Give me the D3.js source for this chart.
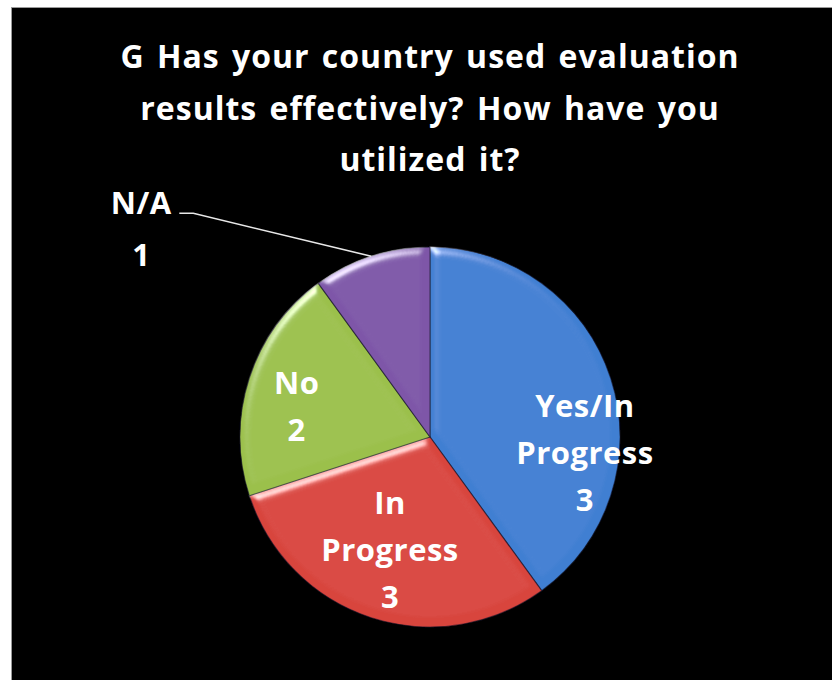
<!DOCTYPE html>
<html>
<head>
<meta charset="utf-8">
<script src="https://cdn.jsdelivr.net/npm/d3@7"></script>
<style>
  body { margin: 0; background: #fff; }
  svg text { font-family: 'Open Sans', Lato, sans-serif; font-weight: bold; fill: #fff; font-variant-ligatures: none; }
</style>
</head>
<body>
<div id="chart"></div>
<script>
// data
const categories = ['Yes/In Progress', 'In Progress', 'No', 'N/A']
const labelLines = [['Yes/In', 'Progress'], ['In', 'Progress'], ['No'], ['N/A']]
const sliceShares = [4, 3, 2, 1] // slice sizes as drawn
const counts = [3, 3, 2, 1] // numbers printed on the labels
const titleLines = ['G Has your country used evaluation', 'results effectively? How have you', 'utilized it?']

const op = {
  width: 832,
  height: 680,
  cx: 430,
  cy: 437,
  r: 190,
  colors: ['#3f7fd2', '#d8443e', '#9bc04b', '#7e57a8'],
  // label placement: angle offset (deg) from slice middle, radius fraction, outside?
  labelPos: [
    { da: 24, k: 0.82 },
    { da: 1.5, k: 0.63 },
    { da: -5, k: 0.72 },
    { outside: true }
  ],
  lineH: 47,
  fontSize: 31,
  titleSize: 32
}

const svg = d3.select('#chart').append('svg').attr('width', op.width).attr('height', op.height)

// background panel
svg.append('rect')
  .attr('x', 11.5).attr('y', 7.5)
  .attr('width', op.width).attr('height', op.height)
  .attr('fill', '#000').attr('stroke', '#9a9a9a')

// bevel filter
const defs = svg.append('defs')
const f = defs.append('filter').attr('id', 'bevel').attr('x', '-10%').attr('y', '-10%').attr('width', '120%').attr('height', '120%')
f.append('feGaussianBlur').attr('in', 'SourceAlpha').attr('stdDeviation', 5).attr('result', 'blur')
f.append('feSpecularLighting').attr('in', 'blur').attr('surfaceScale', 4).attr('specularConstant', 0.7)
  .attr('specularExponent', 40).attr('lighting-color', '#fff').attr('result', 'spec')
  .append('feDistantLight').attr('azimuth', 240).attr('elevation', 40)
f.append('feComposite').attr('in', 'spec').attr('in2', 'SourceAlpha').attr('operator', 'in').attr('result', 'specIn')
f.append('feComposite').attr('in', 'SourceGraphic').attr('in2', 'specIn')
  .attr('operator', 'arithmetic').attr('k1', 0).attr('k2', 1).attr('k3', 1).attr('k4', 0)

// title
svg.append('text')
  .attr('text-anchor', 'middle')
  .attr('font-size', op.titleSize)
  .attr('letter-spacing', 1)
  .attr('word-spacing', 3)
  .selectAll('tspan').data(titleLines).enter()
  .append('tspan')
  .attr('x', op.cx)
  .attr('y', (d, i) => 68 + i * 51.5)
  .text(d => d)

// pie
const data = categories.map((c, i) => ({ name: c, share: sliceShares[i], count: counts[i], lines: labelLines[i] }))
const pie = d3.pie().sort(null).value(d => d.share)
const arcs = pie(data)
const arc = d3.arc().innerRadius(0).outerRadius(op.r)
const color = d3.scaleOrdinal().domain(categories).range(op.colors)

const g = svg.append('g').attr('transform', `translate(${op.cx}, ${op.cy})`)

g.selectAll('path.slice').data(arcs).enter()
  .append('path').classed('slice', true)
  .attr('d', arc)
  .attr('fill', d => color(d.data.name))
  .attr('stroke', 'rgba(20,20,40,0.55)')
  .attr('stroke-width', 1.2)
  .attr('filter', 'url(#bevel)')

// labels
arcs.forEach((d, i) => {
  const lp = op.labelPos[i]
  const mid = (d.startAngle + d.endAngle) / 2
  const lines = d.data.lines.concat([String(d.data.count)])
  const capHalf = op.fontSize * 0.36
  if (!lp.outside) {
    const a = mid + lp.da * Math.PI / 180
    const x = Math.sin(a) * op.r * lp.k
    const y = -Math.cos(a) * op.r * lp.k
    const top = y - (lines.length - 1) * op.lineH / 2
    g.append('text')
      .attr('text-anchor', 'middle')
      .attr('font-size', op.fontSize)
      .attr('letter-spacing', 0.5)
      .selectAll('tspan').data(lines).enter()
      .append('tspan')
      .attr('x', x)
      .attr('y', (t, j) => top + j * op.lineH + capHalf)
      .text(t => t)
  } else {
    // leader line from the rim to an outside label
    const p0 = [Math.sin(mid) * op.r, -Math.cos(mid) * op.r]
    const p1 = [p0[0] - 178, p0[1] - 43]
    const p2 = [p1[0] - 14, p1[1]]
    g.append('polyline')
      .attr('points', [p0, p1, p2].map(p => p.join(',')).join(' '))
      .attr('fill', 'none').attr('stroke', '#e8e8e8').attr('stroke-width', 1.5)
    const tx = p2[0] - 38
    g.append('text')
      .attr('text-anchor', 'middle')
      .attr('font-size', op.fontSize)
      .attr('letter-spacing', 0.5)
      .selectAll('tspan').data(lines).enter()
      .append('tspan')
      .attr('x', tx)
      .attr('y', (t, j) => p2[1] + 1 + j * 52)
      .text(t => t)
  }
})
</script>
</body>
</html>
